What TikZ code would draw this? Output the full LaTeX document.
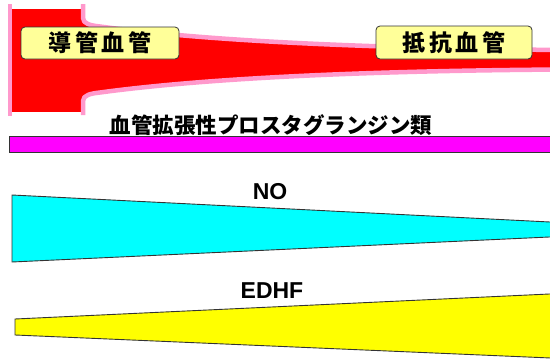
\documentclass[tikz,border=0pt]{standalone}
\usepackage{fontspec}
\setmainfont{Liberation Sans}
\newfontfamily\jp{Noto Sans CJK JP}
\definecolor{vred}{HTML}{FF0000}
\definecolor{vpink}{HTML}{FF99CC}
\definecolor{lblfill}{HTML}{FFFF99}
\definecolor{edge}{HTML}{333333}
\definecolor{pmag}{HTML}{FF00FF}
\definecolor{pcyan}{HTML}{00FFFF}
\definecolor{pyel}{HTML}{FFFF00}
\tikzset{
  wall/.style={draw=vpink, line width=4.5pt, line join=round},
  lbl/.style={draw=edge, line width=0.8pt, fill=lblfill, rounded corners=4pt, inner sep=0pt,
    font=\jp\bfseries\fontsize{23}{25}\selectfont, text=black},
  bar/.style={draw=edge, line width=0.9pt},
  ttl/.style={font=\bfseries\fontsize{23}{25}\selectfont, text=black, inner sep=0pt},
  jttl/.style={font=\jp\bfseries\fontsize{21.5}{24}\selectfont, text=black, inner sep=0pt}
}
\begin{document}
\begin{tikzpicture}[x=1pt,y=-1pt]
\useasboundingbox (0,0) rectangle (550,360);
\fill[white] (0,0) rectangle (550,360);
% vessel fill
\fill[vred] (9,9) rectangle (83,112);
\fill[vred] (83,9) -- (83,18) .. controls (83,24) and (91,25.5) .. (100,26.5)
  .. controls (200,40) and (350,48) .. (560,50)
  -- (560,69.5) .. controls (350,71) and (200,79) .. (100,92.5)
  .. controls (91,93.5) and (83,95) .. (83,101) -- (83,112) -- cycle;
% vessel walls
\draw[wall] (10,4) -- (10,116);
\draw[wall] (83,4) -- (83,18) .. controls (83,24) and (91,25.5) .. (100,26.5)
  .. controls (200,40) and (350,48) .. (560,50);
\draw[wall] (83,115) -- (83,101) .. controls (83,95) and (91,93.5) .. (100,92.5)
  .. controls (200,79) and (350,71) .. (560,69.5);
% labels on vessel
\node[lbl, minimum width=158pt, minimum height=32pt] (conduit) at (100,43) {導\,管\,血\,管};
\node[lbl, minimum width=156pt, minimum height=33pt] (resist) at (454,42.5) {抵\,抗\,血\,管};
% prostaglandin bar
\node[jttl] (pgt) at (271,125) {血管拡張性プロスタグランジン類};
\draw[bar, fill=pmag] (9,136) rectangle (560,152);
% NO
\node[ttl] (not) at (270,192) {NO};
\draw[bar, fill=pcyan] (12,195) -- (560,222.5) -- (560,236.5) -- (12,262) -- cycle;
% EDHF
\node[ttl] (edt) at (272,291) {EDHF};
\draw[bar, fill=pyel] (15,319) -- (560,293.5) -- (560,358.4) -- (15,335) -- cycle;
\end{tikzpicture}
\end{document}
